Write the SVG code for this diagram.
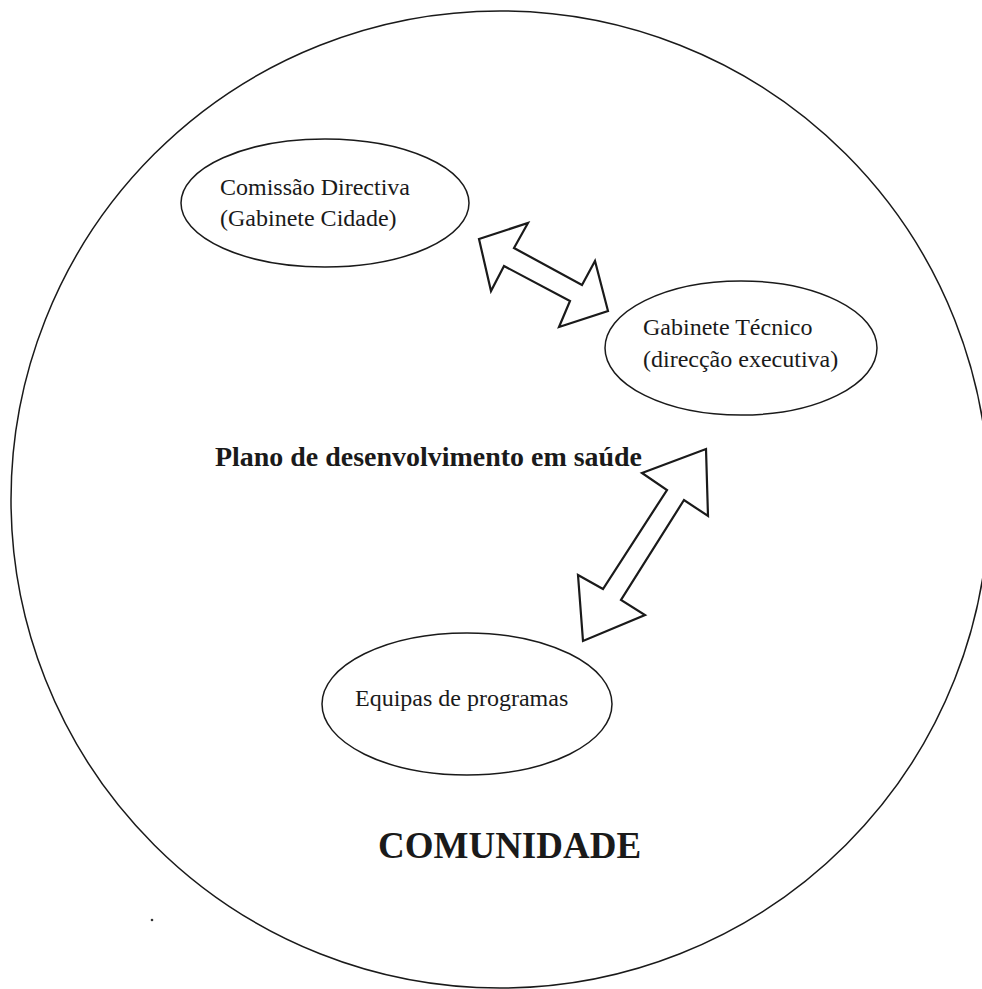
<svg xmlns="http://www.w3.org/2000/svg" width="982" height="989" viewBox="0 0 982 989">
<style>
.outline{fill:none;stroke:#1a1a1a;stroke-width:1.5}
.node{fill:none;stroke:#1a1a1a;stroke-width:1.5}
.lbl{font-family:"Liberation Serif","Times New Roman",serif;font-size:24px;fill:#1a1a1a}
.arrow{fill:#fff;stroke:#1a1a1a;stroke-width:2.2;stroke-linejoin:miter}
.bold{font-family:"Liberation Serif","Times New Roman",serif;font-weight:bold;fill:#1a1a1a}
</style>
<rect width="982" height="989" fill="#fff"/>
<g id="comunidade">
<ellipse class="outline" cx="500" cy="499.5" rx="489" ry="488.5"/>
<text class="bold" x="378" y="858" font-size="37">COMUNIDADE</text>
</g>
<g id="comissao">
<ellipse class="node" cx="325" cy="203" rx="144" ry="64"/>
<text class="lbl" x="220" y="195">Comissão Directiva</text>
<text class="lbl" x="220" y="226">(Gabinete Cidade)</text>
</g>
<g id="gabinete">
<ellipse class="node" cx="741" cy="348" rx="136" ry="67"/>
<text class="lbl" x="643" y="335">Gabinete Técnico</text>
<text class="lbl" x="643" y="367">(direcção executiva)</text>
</g>
<g id="equipas">
<ellipse class="node" cx="467" cy="704" rx="145" ry="71"/>
<text class="lbl" x="355" y="706">Equipas de programas</text>
</g>
<g id="plano">
<text class="bold" x="215" y="466" font-size="27" textLength="427" lengthAdjust="spacingAndGlyphs">Plano de desenvolvimento em saúde</text>
</g>
<g id="connectors">
<polygon class="arrow" points="479,239 528,223 514,248 582,285 595,261 608,311 559,327 570,301 504,266 491,291"/>
<polygon class="arrow" points="706,449 708,516 684,500 621,600 645,615 583,641 578,575 603,589 667,490 642,473"/>
</g>
<circle cx="152" cy="920" r="1.3" fill="#333"/>
</svg>
